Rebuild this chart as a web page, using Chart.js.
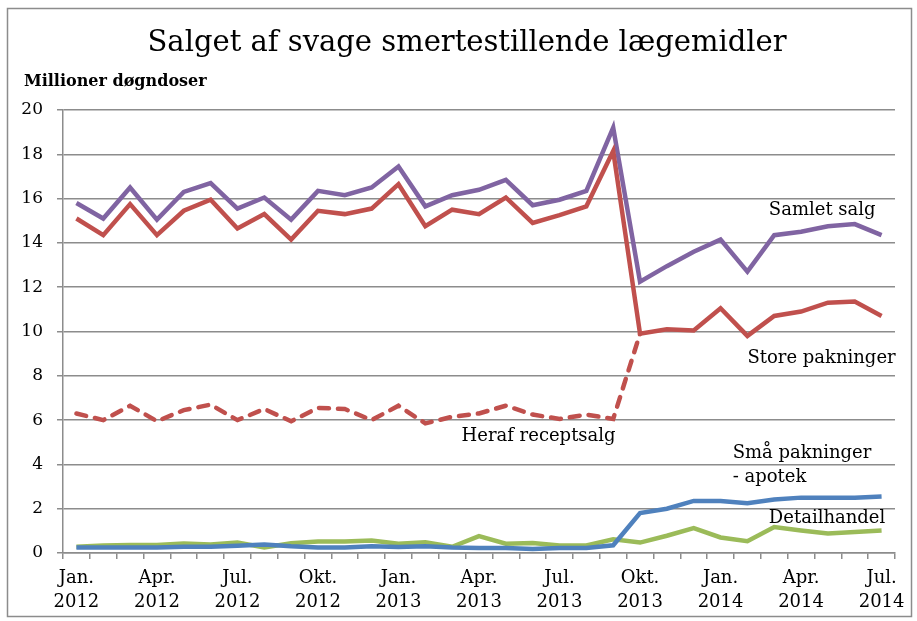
<!DOCTYPE html>
<html>
<head>
<meta charset="utf-8">
<script src="https://cdn.jsdelivr.net/npm/chart.js@4"></script>
<style>
  html, body { margin: 0; padding: 0; background: #fff; }
  #wrap { width: 917px; height: 621px; }
</style>
</head>
<body>
<div id="wrap"><canvas id="salg" width="917" height="621"></canvas></div>
<script>
// data (millioner døgndoser, Jan 2012 - Jul 2014)
const monthNames = ["Jan.", "Feb.", "Mar.", "Apr.", "Maj", "Jun.", "Jul.", "Aug.", "Sep.", "Okt.", "Nov.", "Dec."];
const years = [2012, 2013, 2014];
const months = [];
for (const y of years) {
    for (let m = 0; m < 12; m++) {
        if (y === 2014 && m > 6) break;
        months.push([monthNames[m], String(y)]);
    }
}

const samletSalg = [15.8, 15.1, 16.5, 15.05, 16.3, 16.7, 15.55, 16.05, 15.05, 16.35, 16.15, 16.5, 17.45, 15.65, 16.15, 16.4,
    16.85, 15.7, 15.95, 16.35, 19.2, 12.25, 12.95, 13.6, 14.15, 12.7, 14.35, 14.5, 14.75, 14.85, 14.35];
const storePakninger = [15.1, 14.35, 15.75, 14.35, 15.45, 15.95, 14.65, 15.3, 14.15, 15.45, 15.3, 15.55, 16.65, 14.75, 15.5, 15.3,
    16.05, 14.9, 15.25, 15.65, 18.15, 9.9, 10.1, 10.05, 11.05, 9.8, 10.7, 10.9, 11.3, 11.35, 10.7];
const herafRecept = [6.3, 6.0, 6.65, 5.95, 6.45, 6.7, 6.0, 6.5, 5.95, 6.55, 6.5, 6.0, 6.65, 5.85, 6.15, 6.3,
    6.65, 6.25, 6.05, 6.25, 6.05, 9.9, null, null, null, null, null, null, null, null, null];
const smaaApotek = [0.25, 0.25, 0.25, 0.25, 0.28, 0.28, 0.33, 0.38, 0.3, 0.25, 0.25, 0.3, 0.27, 0.3, 0.25, 0.23,
    0.23, 0.18, 0.23, 0.23, 0.35, 1.8, 2.0, 2.35, 2.35, 2.25, 2.42, 2.5, 2.5, 2.5, 2.55];
const detailhandel = [0.28, 0.34, 0.36, 0.36, 0.43, 0.38, 0.47, 0.25, 0.44, 0.52, 0.52, 0.56, 0.42, 0.49, 0.28, 0.76,
    0.42, 0.45, 0.34, 0.34, 0.62, 0.47, 0.78, 1.12, 0.7, 0.53, 1.17, 1.02, 0.88, 0.95, 1.02];
const yTicks = [0, 2, 4, 6, 8, 10, 12, 14, 16, 18, 20];

const serif = "'DejaVu Serif', 'Liberation Serif', serif";
const gridGray = "#8c8c8c";

// series labels written inside the plot (index on x axis, value on y axis)
const seriesLabels = [
    { text: "Samlet salg", x: 25.8, y: 15.45 },
    { text: "Store pakninger", x: 25.0, y: 8.8 },
    { text: "Heraf receptsalg", x: 14.35, y: 5.25 },
    { text: "Små pakninger", x: 24.45, y: 4.5 },
    { text: "- apotek", x: 24.45, y: 3.4 },
    { text: "Detailhandel", x: 25.8, y: 1.55 }
];

const decor = {
    id: "decor",
    afterDraw(chart) {
        const ctx = chart.ctx;
        const xs = chart.scales.x, ys = chart.scales.y;
        ctx.save();
        ctx.strokeStyle = "#8c8c8c";
        ctx.lineWidth = 1.5;
        ctx.strokeRect(7.5, 8.5, 904, 608);

        ctx.fillStyle = "#000";
        ctx.textAlign = "center";
        ctx.textBaseline = "middle";
        ctx.font = "500 29px " + serif;
        ctx.fillText("Salget af svage smertestillende lægemidler", 467, 43);

        ctx.textAlign = "left";
        ctx.font = "bold 16px " + serif;
        ctx.fillText("Millioner døgndoser", 24, 82);

        ctx.font = "18px " + serif;
        for (const l of seriesLabels) {
            ctx.fillText(l.text, xs.getPixelForValue(l.x), ys.getPixelForValue(l.y));
        }
        ctx.restore();
    }
};

const line = (data, color, extra) => Object.assign({
    data: data,
    borderColor: color,
    backgroundColor: color,
    borderWidth: 4.5,
    pointRadius: 0,
    tension: 0,
    fill: false
}, extra || {});

new Chart(document.getElementById("salg"), {
    type: "line",
    data: {
        labels: months,
        datasets: [
            line(smaaApotek, "#4F81BD"),
            line(detailhandel, "#9BBB59"),
            line(herafRecept, "#C0504D", { borderDash: [10, 9], borderCapStyle: "round" }),
            line(storePakninger, "#C0504D"),
            line(samletSalg, "#8064A2")
        ]
    },
    options: {
        responsive: false,
        animation: false,
        layout: { padding: { left: 10, right: 22, top: 110, bottom: 10 } },
        plugins: {
            legend: { display: false },
            tooltip: { enabled: false }
        },
        scales: {
            x: {
                offset: true,
                grid: { drawOnChartArea: false, drawTicks: true, tickLength: 6, offset: true, color: gridGray, lineWidth: 1.5 },
                border: { color: gridGray, width: 1.5 },
                ticks: {
                    autoSkip: false,
                    maxRotation: 0,
                    padding: 7,
                    color: "#000",
                    font: { family: serif, size: 18, lineHeight: 1.35 },
                    callback: (v, i) => (i % 3 === 0 ? months[i] : "")
                },
                afterFit: s => { s.height = 58; }
            },
            y: {
                min: 0,
                max: 20,
                afterBuildTicks: s => { s.ticks = yTicks.map(v => ({ value: v })); },
                grid: { color: gridGray, lineWidth: 1.5, tickLength: 6 },
                border: { color: gridGray, width: 1.5 },
                ticks: { padding: 14, color: "#000", font: { family: serif, size: 17 } },
                afterFit: s => { s.width = 53; }
            }
        }
    },
    plugins: [decor]
});
</script>
</body>
</html>
